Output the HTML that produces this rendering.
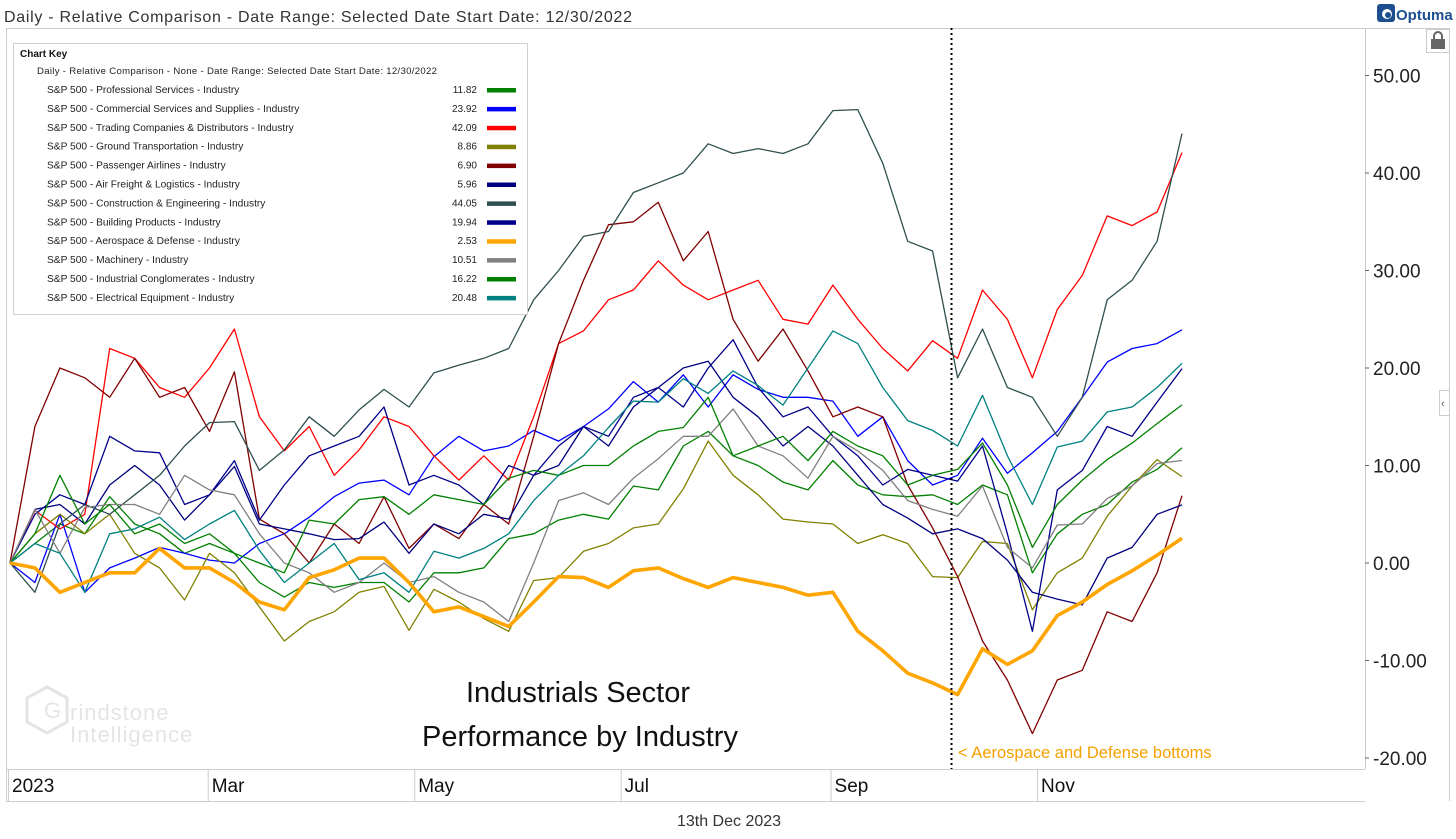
<!DOCTYPE html>
<html><head><meta charset="utf-8">
<style>
html,body{margin:0;padding:0;background:#fff;}
body{width:1456px;height:834px;overflow:hidden;font-family:"Liberation Sans",sans-serif;}
svg text{font-family:"Liberation Sans",sans-serif;}
</style></head>
<body>
<svg id="chart" width="1456" height="834" viewBox="0 0 1456 834" xmlns="http://www.w3.org/2000/svg">
  <text x="4" y="22" font-size="16" fill="#333" textLength="628" lengthAdjust="spacing">Daily - Relative Comparison - Date Range: Selected Date  Start Date: 12/30/2022</text>
  <g>
    <rect x="1377" y="4" width="18" height="18" rx="3" fill="#1d4e8f"/>
    <circle cx="1387" cy="14" r="5" fill="#fff"/>
    <circle cx="1388" cy="15" r="3" fill="#1d4e8f"/>
    <text x="1396" y="20" font-size="15" font-weight="bold" fill="#1d4e8f">Optuma</text>
  </g>
  <line x1="6" y1="28.5" x2="1450" y2="28.5" stroke="#ccc"/>
  <line x1="6.5" y1="28" x2="6.5" y2="801" stroke="#ccc"/>
  <line x1="1365.5" y1="28" x2="1365.5" y2="769" stroke="#c8c8c8"/>
  <line x1="1449.5" y1="28" x2="1449.5" y2="801" stroke="#ccc"/>
  <line x1="6" y1="769.5" x2="1365" y2="769.5" stroke="#ccc"/>
  <line x1="6" y1="801.5" x2="1365" y2="801.5" stroke="#ccc"/>
  <g>
    <rect x="1426.5" y="29.5" width="23" height="23" fill="#fff" stroke="#ccc"/>
    <rect x="1431" y="39" width="14" height="10" fill="#666"/>
    <path d="M1434 39 v-3 a4 4 0 0 1 8 0 v3" fill="none" stroke="#666" stroke-width="2"/>
  </g>
  <g>
    <rect x="1439.5" y="390.5" width="10" height="25" fill="#fff" stroke="#ccc"/>
    <text x="1441" y="407" font-size="11" fill="#555">‹</text>
  </g>
  <g id="yaxis"></g>
  <g id="xaxis"></g>
  <g opacity="0.55">
    <polygon points="47,687 67,698 67,722 47,733 27,722 27,698" fill="none" stroke="#cfcfcf" stroke-width="3"/>
    <text x="44" y="718" font-size="22" fill="#cfcfcf">G</text>
    <text x="70" y="720" font-size="22" fill="#cfcfcf" letter-spacing="1">rindstone</text>
    <text x="70" y="742" font-size="22" fill="#cfcfcf" letter-spacing="1">Intelligence</text>
  </g>
  <text x="578" y="702" font-size="29" text-anchor="middle" fill="#111">Industrials Sector</text>
  <text x="580" y="746" font-size="29" text-anchor="middle" fill="#111">Performance by Industry</text>
  <g id="series"></g>
  <line x1="951.5" y1="28" x2="951.5" y2="769" stroke="#000" stroke-width="2" stroke-dasharray="2,3"/>
  <text x="958" y="758" font-size="16.5" fill="#f5a000">&lt; Aerospace and Defense bottoms</text>
  <g id="legend">
    <rect x="13.5" y="43.5" width="514" height="271" fill="#fff" stroke="#d0d0d0"/>
    <text x="20" y="57" font-size="10" font-weight="bold" fill="#111">Chart Key</text>
    <text x="37" y="74" font-size="9.6" fill="#222" textLength="400" lengthAdjust="spacing">Daily - Relative Comparison - None - Date Range: Selected Date  Start Date: 12/30/2022</text>
  </g>
  <text x="729" y="826" font-size="16" text-anchor="middle" fill="#333">13th Dec 2023</text>
</svg>
<script>
const names = ["S&P 500 - Professional Services - Industry","S&P 500 - Commercial Services and Supplies - Industry","S&P 500 - Trading Companies & Distributors - Industry","S&P 500 - Ground Transportation - Industry","S&P 500 - Passenger Airlines - Industry","S&P 500 - Air Freight & Logistics - Industry","S&P 500 - Construction & Engineering - Industry","S&P 500 - Building Products - Industry","S&P 500 - Aerospace & Defense - Industry","S&P 500 - Machinery - Industry","S&P 500 - Industrial Conglomerates - Industry","S&P 500 - Electrical Equipment - Industry"];
const lastValues = ["11.82","23.92","42.09","8.86","6.90","5.96","44.05","19.94","2.53","10.51","16.22","20.48"];
const yTicks = [50,40,30,20,10,0,-10,-20];
const monthLabels = ["2023","Mar","May","Jul","Sep","Nov"];
const monthDays = [0,59,120,181,243,304];
const professional = [0,2,4,3,6.8,4,3,1,2,1,-2,-3.5,-2,-2.5,-2,-2,-4,-1,-1,-0.5,2.5,3,4.4,5,4.5,7.9,7.5,12,13.5,11,10,8.3,7.5,10.5,8,7,6.8,7,6,8,7,-1,3,5,6,8.3,9.6,11.82];
const commercial = [0,-2,5,-3,-0.5,0.5,1.6,1,0.3,0,2,3,4.7,6.8,8.2,8.5,7,10.9,13,11.5,12,13.6,12.5,14,15.8,18.6,16.5,19.3,16,19.3,17.8,17,17,16.6,13,15,10.5,8,9,12.8,9.2,11.3,13.5,17,20.6,22,22.5,23.92];
const trading = [0,5.4,3.5,5,22,21,18,17,20,24,15,11.5,14,9,11.6,15,14,11,8.5,11,8.5,15,22.5,23.8,27,28,31,28.5,27,28,29,25,24.5,28.5,25,22,19.7,22.8,21,28,25,19,26,29.5,35.6,34.6,36,42.09];
const ground = [0,3,5,3,5,1,-0.5,-3.8,1,-1,-4.5,-8,-6,-5,-3,-2.4,-6.9,-2.7,-4,-5.7,-7,-1.8,-1.5,1.2,2,3.6,4,7.6,12.5,9,7,4.5,4.2,4,2,2.9,2,-1.4,-1.5,2.2,2,-4.8,-1,0.5,4.8,7.9,10.6,8.86];
const airlines = [0,14,20,19,17,21,17,18,13.5,19.6,4.5,3,0,4,2,6.8,1.5,4,2.5,6,4,13,22.5,29,34.7,35,37,31,34,25,20.7,24,19.7,15,16,15,8,3.6,-1.4,-8,-12,-17.5,-12,-11,-5,-6,-1,6.9];
const airFreight = [0,5.5,6,4,8,10,8,4.4,7,9.9,4,3.5,3,2.4,2.5,4.2,1,4,3,5,4.5,9,10,14,12,16,18,20,20.7,17,15,12,14,12,9,6,4.6,3,3.5,2.5,0.3,-3,-3.7,-4.3,0.5,1.6,5,5.96];
const construction = [0,-3,4,6,5,7,9,12,14.4,14.5,9.5,11.6,15,13,15.7,17.8,16,19.5,20.3,21,22,27,30,33.5,34,38,39,40,43,42,42.5,42,43,46.4,46.5,41,33,32,19,24,18,17,13,17,27,29,33,44.05];
const building = [0,5,7,6,13,11.5,11.3,6,7,10.5,4.4,8,11,12,13,16,8,9,8,6,10,9,12,14,13,17,18,16,20,22.9,18,15,16,13,11,8,9.6,9,8.4,12,3,-7,7.5,9.5,14,13,16.5,19.94];
const aerospace = [0,-0.5,-3,-2,-1,-1,1.5,-0.5,-0.5,-2,-4,-4.8,-1.5,-0.7,0.5,0.5,-2,-5,-4.5,-5.5,-6.5,-4,-1.4,-1.5,-2.5,-0.8,-0.5,-1.6,-2.5,-1.5,-2,-2.5,-3.3,-3,-7,-9,-11.3,-12.3,-13.5,-8.8,-10.4,-9,-5.4,-4,-2.2,-0.8,0.8,2.53];
const machinery = [0,5.5,1,5.7,6,6,5,9,7.5,7,3,0,-1,-3,-2,0,-2,-1.4,-3,-4,-6,0,6.4,7.2,6,8.7,10.7,13,13,15.8,12,11,8.7,13,11.5,9.5,6.4,5.5,4.8,7.9,1.6,-0.5,3.9,4,6.6,7.9,10.2,10.51];
const conglomerates = [0,3,9,4,6,3,4,2,3,1,0,-1,4.4,4,6.5,6.8,5,7,6.5,6,8.7,9.5,9,10,10,12,13.5,13.9,17,11,12,13,10.5,13.5,12,11,8,9,9.6,12.3,8,1.6,6,8.5,10.6,12.3,14.3,16.22];
const electrical = [0,2,1,-3,3,3.5,4.7,2.4,4,5.4,1.3,-2,0,2,-1.7,-1,-3,1.2,0.5,1.5,3,6.4,9,11,13.9,16.6,16.5,18.9,17.4,19.7,18.2,16.2,20,23.8,22.5,18,14.6,13.6,12,17.2,11,6,11.9,12.5,15.5,16,18,20.48];

const seriesData = [professional,commercial,trading,ground,airlines,airFreight,construction,building,aerospace,machinery,conglomerates,electrical];
const colors = ["#008000","#0000ff","#ff0000","#808000","#800000","#000080","#2f4f4f","#00008b","#ffa500","#808080","#008000","#008080"];
const slugs = ["professional-services","commercial-services","trading-companies","ground-transportation","passenger-airlines","air-freight","construction-engineering","building-products","aerospace-defense","machinery","industrial-conglomerates","electrical-equipment"];

const NS = "http://www.w3.org/2000/svg";
const yScale = v => 563 - v * 9.75;
const xLeft = 10, xRight = 1182;
const xScale = (i, n) => xLeft + i * (xRight - xLeft) / (n - 1);
const dayScale = d => 10 + d * 3.385;

function mk(tag, attrs, parent) {
  const e = document.createElementNS(NS, tag);
  for (const k in attrs) e.setAttribute(k, attrs[k]);
  parent.appendChild(e);
  return e;
}

const yaxis = document.getElementById('yaxis');
yTicks.forEach(t => {
  const y = yScale(t);
  const tk = mk('line', {x1:1365, x2:1369, y1:y, y2:y, stroke:'#666'}, yaxis);
  
  
  const lb = mk('text', {x:1373, y:y + 7, 'font-size':19, fill:'#222'}, yaxis);
  lb.textContent = t.toFixed(2);
  
  
});

const xaxis = document.getElementById('xaxis');
monthLabels.forEach((m, i) => {
  const x = i === 0 ? 8 : dayScale(monthDays[i]) - 2;
  const sep = mk('line', {x1:x + 0.5, x2:x + 0.5, y1:769, y2:801, stroke:'#ccc'}, xaxis);
  
  
  const lb = mk('text', {x:x + 4, y:792, 'font-size':19, fill:'#111'}, xaxis);
  lb.textContent = m;
  
  
});

const sg = document.getElementById('series');
const order = [0,1,2,3,4,5,6,7,9,10,11,8];
order.forEach(k => {
  const d = seriesData[k];
  const pts = d.map((v, i) => xScale(i, d.length).toFixed(1) + ',' + yScale(v).toFixed(1)).join(' ');
  const pl = mk('polyline', {points:pts, fill:'none', stroke:colors[k], 'stroke-width': k === 8 ? 3.6 : 1.3, 'stroke-linejoin':'round'}, sg);
  
  
});

const lg = document.getElementById('legend');
names.forEach((n, i) => {
  const y = 93 + i * 18.9;
  const t = mk('text', {x:47, y:y, 'font-size':10.2, fill:'#222'}, lg);
  t.textContent = n;
  
  
  const v = mk('text', {x:477, y:y, 'font-size':10, fill:'#222', 'text-anchor':'end'}, lg);
  v.textContent = lastValues[i];
  
  
  const s = mk('rect', {x:487, y:y - 5, width:29, height:4.5, fill:colors[i]}, lg);
  
  
});
</script>
</body></html>
